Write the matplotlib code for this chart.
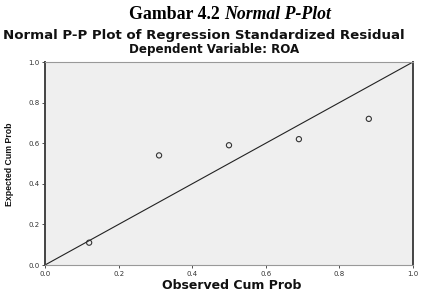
import numpy as np
import matplotlib
matplotlib.use("Agg")
import matplotlib.pyplot as plt

# --- data ---
observed = [0.12, 0.31, 0.50, 0.69, 0.88]
expected = [0.11, 0.54, 0.59, 0.62, 0.72]
ticks = [0.0, 0.2, 0.4, 0.6, 0.8, 1.0]
tick_labels = ["0.0", "0.2", "0.4", "0.6", "0.8", "1.0"]

fig = plt.figure(figsize=(4.22, 2.97), dpi=100)
fig.patch.set_facecolor("white")

# titles
fig.text(0.532, 0.952, "Gambar 4.2 ", family="Liberation Serif", weight="bold",
         fontsize=12.8, ha="right", va="center")
fig.text(0.532, 0.952, "Normal P-Plot", family="Liberation Serif", weight="bold",
         style="italic", fontsize=12.8, ha="left", va="center")
fig.text(0.482, 0.882, "Normal P-P Plot of Regression Standardized Residual",
         family="DejaVu Sans", weight="bold", fontsize=9.6, ha="center",
         va="center", color="#111111")
fig.text(0.507, 0.832, "Dependent Variable: ROA", family="DejaVu Sans",
         weight="bold", fontsize=8.6, ha="center", va="center", color="#111111")

ax = fig.add_axes([0.1066, 0.1077, 0.872, 0.6835])
ax.set_facecolor("#efefef")

# diagonal reference line
ax.plot([0, 1], [0, 1], color="#222222", linewidth=0.8)
# observed points
ax.scatter(observed, expected, s=14, facecolors="none", edgecolors="#333333",
           linewidths=0.8, zorder=3)

ax.set_xlim(0, 1)
ax.set_ylim(0, 1)
ax.set_xticks(ticks)
ax.set_xticklabels(tick_labels)
ax.set_yticks(ticks)
ax.set_yticklabels(tick_labels)
ax.tick_params(labelsize=5, colors="#333333", length=2, width=0.6, pad=2)

for side in ["left", "right"]:
    ax.spines[side].set_color("#444444")
    ax.spines[side].set_linewidth(1.4)
for side in ["top", "bottom"]:
    ax.spines[side].set_color("#999999")
    ax.spines[side].set_linewidth(0.8)

fig.text(0.549, 0.040, "Observed Cum Prob", family="DejaVu Sans",
         weight="bold", fontsize=9.0, ha="center", va="center", color="#111111")
fig.text(0.022, 0.448, "Expected Cum Prob", family="Liberation Sans",
         weight="bold", fontsize=6.3, ha="center", va="center", rotation=90,
         color="#111111")

fig.savefig("out.png", dpi=100)
